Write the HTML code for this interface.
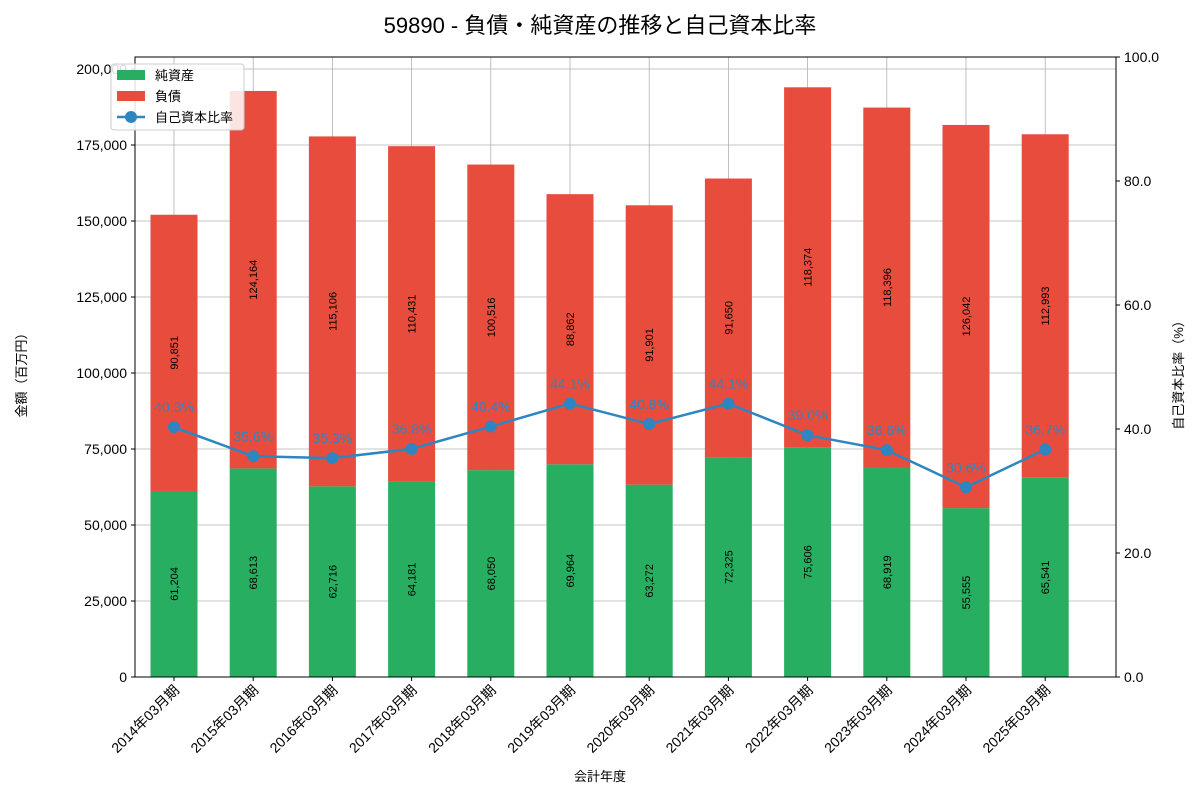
<!DOCTYPE html>
<html><head><meta charset="utf-8"><style>
body{margin:0;background:#fff}
svg text{font-family:"Liberation Sans","Noto Sans CJK JP",sans-serif}
</style></head><body>
<svg id="c" width="1200" height="800" xmlns="http://www.w3.org/2000/svg">
<text x="600" y="33" text-anchor="middle" font-size="22" fill="#000">59890 - 負債・純資産の推移と自己資本比率</text>
<g id="grid"></g><g id="bars"></g><g id="line"></g><g id="axes"></g>
</svg>
<script>
const categories=["2014年03月期","2015年03月期","2016年03月期","2017年03月期","2018年03月期","2019年03月期","2020年03月期","2021年03月期","2022年03月期","2023年03月期","2024年03月期","2025年03月期"];
const equity=[61204,68613,62716,64181,68050,69964,63272,72325,75606,68919,55555,65541];
const liabilities=[90851,124164,115106,110431,100516,88862,91901,91650,118374,118396,126042,112993];
const ratio=[40.3,35.6,35.3,36.8,40.4,44.1,40.8,44.1,39.0,36.6,30.6,36.7];
const leftTicks=[0,25000,50000,75000,100000,125000,150000,175000,200000];
const rightTicks=[0,20,40,60,80,100];
const L=135,R=1116,T=57,B=677;
const step=79.2, x0=174;
const xs=i=>x0+i*step;
const yl=v=>B-v*(200000===0?0:(B-69)/200000);
const yr=v=>B-v*(B-T)/100;
const NS="http://www.w3.org/2000/svg";
function mk(p,t,a){const e=document.createElementNS(NS,t);for(const k in a)e.setAttribute(k,a[k]);p.appendChild(e);return e;}
const grid=document.getElementById('grid'),bars=document.getElementById('bars'),line=document.getElementById('line'),axes=document.getElementById('axes');
const fmt=v=>v.toLocaleString('en-US');
leftTicks.forEach(v=>{const g=mk(grid,'line',{x1:L,x2:R,y1:yl(v),y2:yl(v),stroke:'#b0b0b0','stroke-width':0.8});

mk(axes,'line',{x1:L-4,x2:L,y1:yl(v),y2:yl(v),stroke:'#000'});
const t=mk(axes,'text',{x:L-8,y:yl(v)+5,'text-anchor':'end','font-size':14});t.textContent=fmt(v);
});
rightTicks.forEach(v=>{mk(axes,'line',{x1:R,x2:R+4,y1:yr(v),y2:yr(v),stroke:'#000'});
const t=mk(axes,'text',{x:R+8,y:yr(v)+5,'font-size':14});t.textContent=v.toFixed(1);
});
categories.forEach((c,i)=>{const x=xs(i);
const g=mk(grid,'line',{x1:x,x2:x,y1:T,y2:B,stroke:'#b0b0b0','stroke-width':0.8});

const e=mk(bars,'rect',{x:x-23.5,y:yl(equity[i]),width:47,height:B-yl(equity[i]),fill:'#27ae60'});

const l=mk(bars,'rect',{x:x-23.5,y:yl(equity[i]+liabilities[i]),width:47,height:yl(equity[i])-yl(equity[i]+liabilities[i]),fill:'#e74c3c'});

[[equity[i],(yl(0)+yl(equity[i]))/2],[liabilities[i],(yl(equity[i])+yl(equity[i]+liabilities[i]))/2]].forEach(([v,y])=>{
const t=mk(bars,'text',{x:x,y:y,'font-size':11,'text-anchor':'middle',transform:`rotate(-90 ${x} ${y}) translate(0 4)`});t.textContent=fmt(v);
});
mk(axes,'line',{x1:x,x2:x,y1:B,y2:B+4,stroke:'#000'});
const t=mk(axes,'text',{x:x+6,y:B+14,'font-size':14,'text-anchor':'end',transform:`rotate(-45 ${x+6} ${B+14})`});t.textContent=c;
});
const pl=mk(line,'polyline',{points:ratio.map((v,i)=>xs(i)+','+yr(v)).join(' '),fill:'none',stroke:'#2e86c1','stroke-width':2.5});

ratio.forEach((v,i)=>{const c=mk(line,'circle',{cx:xs(i),cy:yr(v),r:6,fill:'#2e86c1'});

const t=mk(line,'text',{x:xs(i),y:yr(v)-15,'text-anchor':'middle','font-size':14,fill:'#2e86c1'});t.textContent=v.toFixed(1)+'%';
});
const fr=mk(axes,'rect',{x:L,y:T,width:R-L,height:B-T,fill:'none',stroke:'#000','stroke-width':1});

let t=mk(axes,'text',{x:600,y:781,'text-anchor':'middle','font-size':13});t.textContent='会計年度';

t=mk(axes,'text',{x:26,y:372,'text-anchor':'middle','font-size':13,transform:'rotate(-90 26 372)'});t.textContent='金額（百万円）';

t=mk(axes,'text',{x:1183,y:372,'text-anchor':'middle','font-size':13,transform:'rotate(-90 1183 372)'});t.textContent='自己資本比率（%）';

const lg=mk(axes,'g',{});
mk(lg,'rect',{x:111,y:64,width:133,height:66,fill:'#fff','fill-opacity':0.85,stroke:'#ccc',rx:3});
[['#27ae60','純資産',0],['#e74c3c','負債',1]].forEach(([col,lab,k])=>{
const y=75+k*21;const r=mk(lg,'rect',{x:117,y:y-5,width:28,height:10,fill:col});

const tt=mk(lg,'text',{x:155,y:y+5,'font-size':13});tt.textContent=lab;
});
mk(lg,'line',{x1:117,x2:145,y1:117,y2:117,stroke:'#2e86c1','stroke-width':2.5});
mk(lg,'circle',{cx:131,cy:117,r:6,fill:'#2e86c1'});
t=mk(lg,'text',{x:155,y:122,'font-size':13});t.textContent='自己資本比率';

</script>
</body></html>
